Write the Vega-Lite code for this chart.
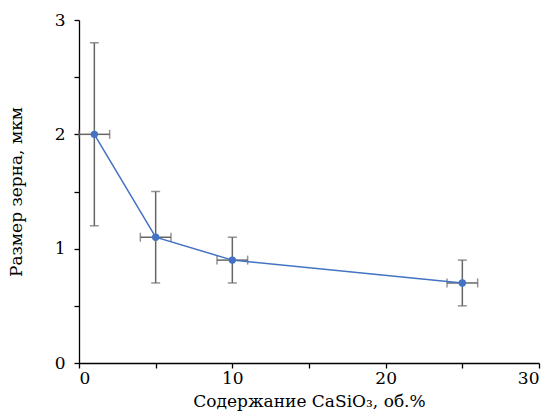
{
  "$schema": "https://vega.github.io/schema/vega-lite/v6.json",
  "width": 460,
  "height": 343,
  "autosize": {"type": "none"},
  "padding": {"left": 79, "top": 20, "right": 12, "bottom": 54},
  "background": "white",
  "config": {
    "view": {"stroke": null},
    "font": "DejaVu Serif",
    "axis": {
      "domainColor": "#000000",
      "domainWidth": 1.3,
      "tickColor": "#000000",
      "tickWidth": 1.3,
      "tickSize": 5,
      "grid": false,
      "labelFont": "DejaVu Serif",
      "labelFontSize": 17,
      "labelColor": "#000000",
      "titleFont": "DejaVu Serif",
      "titleFontSize": 17,
      "titleFontWeight": "normal",
      "titleColor": "#000000"
    }
  },
  "data": {
    "values": [
      {"x": 1, "y": 2.0, "ylo": 1.2, "yhi": 2.8, "xlo": 0, "xhi": 2},
      {"x": 5, "y": 1.1, "ylo": 0.7, "yhi": 1.5, "xlo": 4, "xhi": 6},
      {"x": 10, "y": 0.9, "ylo": 0.7, "yhi": 1.1, "xlo": 9, "xhi": 11},
      {"x": 25, "y": 0.7, "ylo": 0.5, "yhi": 0.9, "xlo": 24, "xhi": 26}
    ]
  },
  "encoding": {
    "x": {
      "field": "x", "type": "quantitative",
      "scale": {"domain": [0, 30], "nice": false},
      "axis": {
        "values": [0, 5, 10, 15, 20, 25, 30],
        "labelExpr": "datum.value % 10 === 0 ? format(datum.value, 'd') : ''",
        "title": "Содержание CaSiO₃, об.%",
        "labelPadding": 2,
        "titlePadding": 7
      }
    },
    "y": {
      "field": "y", "type": "quantitative",
      "scale": {"domain": [0, 3], "nice": false},
      "axis": {
        "values": [0, 0.5, 1, 1.5, 2, 2.5, 3],
        "labelExpr": "datum.value % 1 === 0 ? format(datum.value, 'd') : ''",
        "title": "Размер зерна, мкм",
        "labelPadding": 9,
        "titlePadding": 29
      }
    }
  },
  "layer": [
    {
      "mark": {"type": "rule", "color": "#666666", "strokeWidth": 1.5},
      "encoding": {"y": {"field": "ylo", "type": "quantitative"}, "y2": {"field": "yhi"}}
    },
    {
      "mark": {"type": "rule", "color": "#666666", "strokeWidth": 1.5},
      "encoding": {"x": {"field": "xlo", "type": "quantitative"}, "x2": {"field": "xhi"}}
    },
    {
      "mark": {"type": "tick", "color": "#666666", "orient": "horizontal", "size": 9, "thickness": 1.5},
      "encoding": {"y": {"field": "ylo", "type": "quantitative"}}
    },
    {
      "mark": {"type": "tick", "color": "#666666", "orient": "horizontal", "size": 9, "thickness": 1.5},
      "encoding": {"y": {"field": "yhi", "type": "quantitative"}}
    },
    {
      "mark": {"type": "tick", "color": "#666666", "orient": "vertical", "size": 9, "thickness": 1.5},
      "encoding": {"x": {"field": "xlo", "type": "quantitative"}}
    },
    {
      "mark": {"type": "tick", "color": "#666666", "orient": "vertical", "size": 9, "thickness": 1.5},
      "encoding": {"x": {"field": "xhi", "type": "quantitative"}}
    },
    {
      "mark": {"type": "line", "color": "#4472C4", "strokeWidth": 1.5},
      "encoding": {}
    },
    {
      "mark": {"type": "point", "filled": true, "color": "#4472C4", "opacity": 1, "size": 55},
      "encoding": {}
    }
  ]
}
